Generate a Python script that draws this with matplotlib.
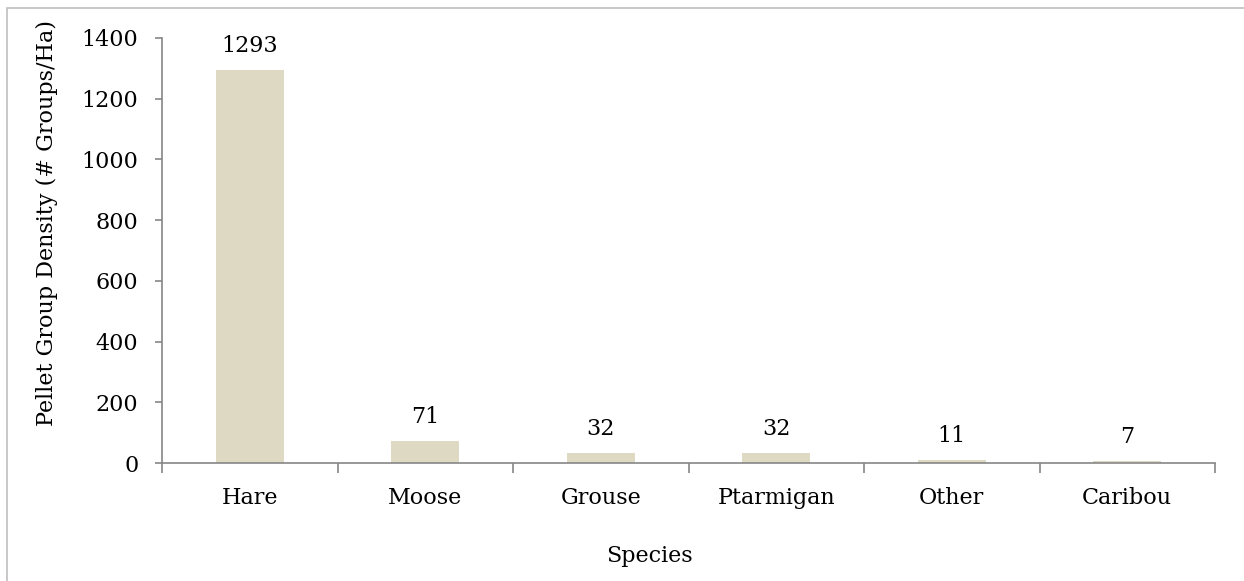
import matplotlib.pyplot as plt
import numpy as np

species = ["Hare", "Moose", "Grouse", "Ptarmigan", "Other", "Caribou"]
density = [1293, 71, 32, 32, 11, 7]
y_ticks = [0, 200, 400, 600, 800, 1000, 1200, 1400]

plt.rcParams['font.family'] = ['DejaVu Serif']
axis_grey = '#868686'
fs = 16

fig = plt.figure(figsize=(12.44, 5.81), dpi=100)
ax = fig.add_axes([162 / 1244, 1 - 463 / 581, (1215 - 162) / 1244, (463 - 38) / 581])

x = np.arange(len(species))
bars = ax.bar(x, density, width=0.39, color='#DDD9C3', zorder=2)
for rect, v in zip(bars, density):
    ax.annotate(str(v), (rect.get_x() + rect.get_width() / 2, v),
                xytext=(0, 13), textcoords='offset points',
                ha='center', va='baseline', fontsize=fs)

ax.set_xlim(-0.5, len(species) - 0.5)
ax.set_ylim(0, 1400)
ax.set_yticks(y_ticks)
ax.tick_params(axis='y', labelsize=fs, length=5, color=axis_grey, width=1.2, pad=12)

# category labels sit between the boundary ticks
ax.set_xticks(np.arange(-0.5, len(species)), minor=False)
ax.set_xticklabels([])
ax.set_xticks(x, minor=True)
ax.set_xticklabels(species, minor=True, fontsize=fs)
ax.tick_params(axis='x', which='major', length=7, color=axis_grey, width=1.2)
ax.tick_params(axis='x', which='minor', length=0, pad=17)

for side in ['top', 'right']:
    ax.spines[side].set_visible(False)
for side in ['left', 'bottom']:
    ax.spines[side].set_color(axis_grey)
    ax.spines[side].set_linewidth(1.2)

ax.set_ylabel("Pellet Group Density (# Groups/Ha)", fontsize=fs)
ax.yaxis.set_label_coords(-0.099, 0.565)
ax.set_xlabel("Species", fontsize=fs)
ax.xaxis.set_label_coords(0.4625, -0.192)

# chart area border
fig.add_artist(plt.Rectangle((7 / 1244, -0.1), 1.2, 1 - 8 / 581 + 0.1,
                             transform=fig.transFigure, fill=False,
                             edgecolor='#BFBFBF', linewidth=1.2))

fig.savefig("out.png", dpi=100)
